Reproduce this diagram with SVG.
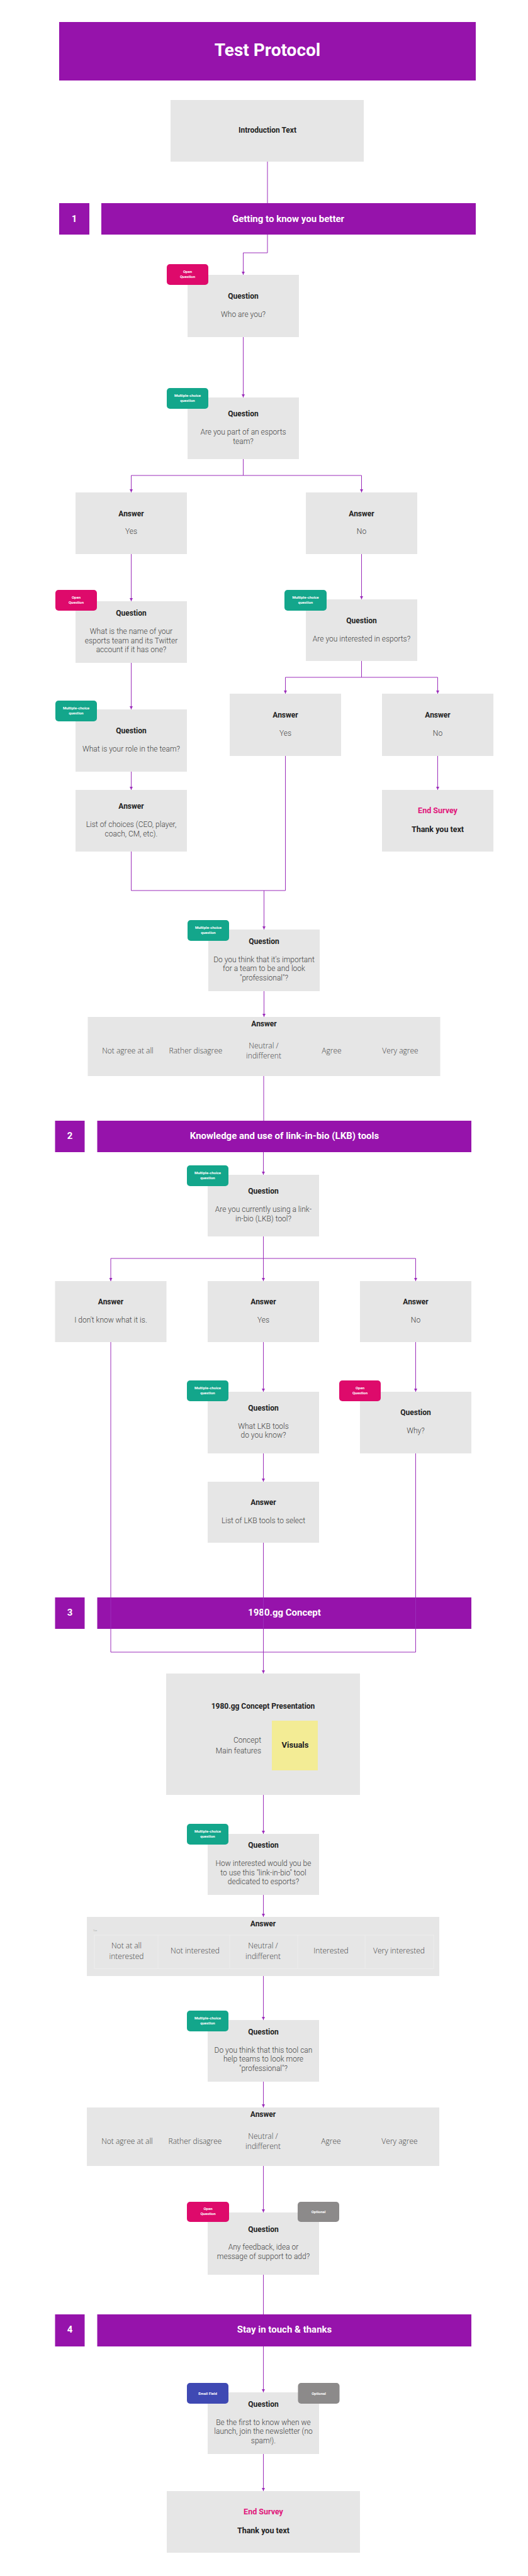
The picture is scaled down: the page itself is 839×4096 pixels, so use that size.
<svg xmlns="http://www.w3.org/2000/svg" width="839" height="4096" viewBox="0 0 839 4096">
<defs>
<style>
.sec{fill:#9613AB}
.box{fill:#E6E6E6}
.h{font-family:Roboto,"Liberation Sans",sans-serif;font-weight:bold;font-size:12px;fill:#222;text-anchor:middle}
.b{font-family:Roboto,"Liberation Sans",sans-serif;font-weight:300;font-size:12px;fill:#444;text-anchor:middle}
.o{font-family:"Open Sans","Liberation Sans",sans-serif;font-weight:300;font-size:12px;fill:#444;text-anchor:middle}
.bt{font-family:Roboto,"Liberation Sans",sans-serif;font-weight:bold;font-size:6px;fill:#fff;text-anchor:middle}
.st{font-family:Roboto,"Liberation Sans",sans-serif;font-weight:bold;font-size:15px;fill:#fff;text-anchor:middle}
.end{font-family:Roboto,"Liberation Sans",sans-serif;font-weight:bold;font-size:12.5px;fill:#E0157A;text-anchor:middle}
.ty{font-family:Roboto,"Liberation Sans",sans-serif;font-weight:bold;font-size:12.5px;fill:#222;text-anchor:middle}
.open{fill:#DE0A6B}
.mc{fill:#13A68B}
.opt{fill:#8C8A8A}
.mail{fill:#3F49B3}
.ln{stroke:#9B2DBA;stroke-width:1;fill:none}
.cell{fill:none;stroke:#EDEDED;stroke-width:1}
</style>
<marker id="ar" viewBox="0 0 6 6" markerWidth="5" markerHeight="5" refX="6" refY="3" orient="auto" markerUnits="userSpaceOnUse">
<path d="M0,0 L6,3 L0,6 z" fill="#9B2DBA"/>
</marker>
</defs>
<rect width="839" height="4096" fill="#fff"/>

<g id="title">
<rect class="sec" x="94" y="35" width="662" height="93"/>
<text x="425" y="89" style="font-family:Roboto,'Liberation Sans',sans-serif;font-weight:bold;font-size:28px;fill:#fff;text-anchor:middle">Test Protocol</text>
</g>
<g id="intro">
<rect class="box" x="271" y="159" width="307" height="98"/>
<text class="h" x="425" y="211">Introduction Text</text>
</g>

<g id="sec1">
<rect class="sec" x="94" y="323" width="48" height="50"/>
<rect class="sec" x="161" y="323" width="595" height="50"/>
<text class="st" x="118" y="353">1</text>
<text class="st" x="458" y="353">Getting to know you better</text>
</g>

<g id="q1">
<rect class="box" x="298" y="437" width="177" height="99"/>
<rect class="open" x="265" y="420" width="66" height="33" rx="5"/>
<text class="bt" x="298" y="434">Open</text>
<text class="bt" x="298" y="442">Question</text>
<text class="h" x="386.5" y="475">Question</text>
<text class="b" x="386.5" y="504">Who are you?</text>
</g>

<g id="q2">
<rect class="box" x="298" y="632" width="177" height="98"/>
<rect class="mc" x="265" y="617" width="66" height="33" rx="5"/>
<text class="bt" x="298" y="631">Multiple-choice</text>
<text class="bt" x="298" y="639">question</text>
<text class="h" x="386.5" y="662">Question</text>
<text class="b" x="386.5" y="691">Are you part of an esports</text>
<text class="b" x="386.5" y="706">team?</text>
</g>

<g id="a_yes">
<rect class="box" x="120" y="783" width="177" height="98"/>
<text class="h" x="208.5" y="821">Answer</text>
<text class="b" x="208.5" y="849">Yes</text>
</g>
<g id="a_no">
<rect class="box" x="486" y="783" width="177" height="98"/>
<text class="h" x="574.5" y="821">Answer</text>
<text class="b" x="574.5" y="849">No</text>
</g>

<g id="q_name">
<rect class="box" x="120" y="956" width="177" height="98"/>
<rect class="open" x="88" y="938" width="66" height="33" rx="5"/>
<text class="bt" x="121" y="952">Open</text>
<text class="bt" x="121" y="960">Question</text>
<text class="h" x="208.5" y="979">Question</text>
<text class="b" x="208.5" y="1008">What is the name of your</text>
<text class="b" x="208.5" y="1023">esports team and its Twitter</text>
<text class="b" x="208.5" y="1037">account if it has one?</text>
</g>

<g id="q_int">
<rect class="box" x="486" y="953" width="177" height="98"/>
<rect class="mc" x="452" y="938" width="67" height="33" rx="5"/>
<text class="bt" x="485.5" y="952">Multiple-choice</text>
<text class="bt" x="485.5" y="960">question</text>
<text class="h" x="574.5" y="991">Question</text>
<text class="b" x="574.5" y="1020">Are you interested in esports?</text>
</g>

<g id="a_yes2">
<rect class="box" x="365" y="1103" width="177" height="99"/>
<text class="h" x="453.5" y="1141">Answer</text>
<text class="b" x="453.5" y="1170">Yes</text>
</g>
<g id="a_no2">
<rect class="box" x="607" y="1103" width="177" height="99"/>
<text class="h" x="695.5" y="1141">Answer</text>
<text class="b" x="695.5" y="1170">No</text>
</g>

<g id="q_role">
<rect class="box" x="120" y="1128" width="177" height="99"/>
<rect class="mc" x="88" y="1114" width="66" height="33" rx="5"/>
<text class="bt" x="121" y="1128">Multiple-choice</text>
<text class="bt" x="121" y="1136">question</text>
<text class="h" x="208.5" y="1166">Question</text>
<text class="b" x="208.5" y="1195">What is your role in the team?</text>
</g>

<g id="a_role">
<rect class="box" x="120" y="1256" width="177" height="98"/>
<text class="h" x="208.5" y="1286">Answer</text>
<text class="b" x="208.5" y="1315">List of choices (CEO, player,</text>
<text class="b" x="208.5" y="1330">coach, CM, etc).</text>
</g>

<g id="end1">
<rect class="box" x="607" y="1256" width="177" height="98"/>
<text class="end" x="695.5" y="1293">End Survey</text>
<text class="ty" x="695.5" y="1323">Thank you text</text>
</g>

<g id="q_prof">
<rect class="box" x="331" y="1478" width="177" height="98"/>
<rect class="mc" x="298" y="1463" width="66" height="33" rx="5"/>
<text class="bt" x="331" y="1477">Multiple-choice</text>
<text class="bt" x="331" y="1485">question</text>
<text class="h" x="419.5" y="1501">Question</text>
<text class="b" x="419.5" y="1530">Do you think that it's important</text>
<text class="b" x="419.5" y="1544">for a team to be and look</text>
<text class="b" x="419.5" y="1559">"professional"?</text>
</g>

<g id="a_prof">
<rect class="box" x="139.5" y="1617" width="560" height="94"/>
<text class="h" x="419.5" y="1632">Answer</text>
<text class="o" x="203" y="1675">Not agree at all</text>
<text class="o" x="311" y="1675">Rather disagree</text>
<text class="o" x="419" y="1667">Neutral /</text>
<text class="o" x="419" y="1683">indifferent</text>
<text class="o" x="527" y="1675">Agree</text>
<text class="o" x="636" y="1675">Very agree</text>
</g>

<g id="sec2">
<rect class="sec" x="87.5" y="1782" width="47" height="50"/>
<rect class="sec" x="154.5" y="1782" width="594.5" height="50"/>
<text class="st" x="111" y="1811">2</text>
<text class="st" x="452" y="1811">Knowledge and use of link-in-bio (LKB) tools</text>
</g>

<g id="q_lkb">
<rect class="box" x="330" y="1868" width="177" height="98"/>
<rect class="mc" x="297" y="1853" width="66" height="33" rx="5"/>
<text class="bt" x="330" y="1867">Multiple-choice</text>
<text class="bt" x="330" y="1875">question</text>
<text class="h" x="418.5" y="1898">Question</text>
<text class="b" x="418.5" y="1927">Are you currently using a link-</text>
<text class="b" x="418.5" y="1942">in-bio (LKB) tool?</text>
</g>

<g id="a_dk">
<rect class="box" x="87.5" y="2037" width="177" height="97"/>
<text class="h" x="176" y="2074">Answer</text>
<text class="b" x="176" y="2103">I don't know what it is.</text>
</g>
<g id="a_y">
<rect class="box" x="330" y="2037" width="177" height="97"/>
<text class="h" x="418.5" y="2074">Answer</text>
<text class="b" x="418.5" y="2103">Yes</text>
</g>
<g id="a_n">
<rect class="box" x="572" y="2037" width="177" height="97"/>
<text class="h" x="660.5" y="2074">Answer</text>
<text class="b" x="660.5" y="2103">No</text>
</g>

<g id="q_tools">
<rect class="box" x="330" y="2213" width="177" height="98"/>
<rect class="mc" x="297" y="2195" width="66" height="33" rx="5"/>
<text class="bt" x="330" y="2209">Multiple-choice</text>
<text class="bt" x="330" y="2217">question</text>
<text class="h" x="418.5" y="2243">Question</text>
<text class="b" x="418.5" y="2272">What LKB tools</text>
<text class="b" x="418.5" y="2286">do you know?</text>
</g>

<g id="q_why">
<rect class="box" x="572" y="2213" width="177" height="98"/>
<rect class="open" x="539" y="2195" width="66" height="33" rx="5"/>
<text class="bt" x="572" y="2209">Open</text>
<text class="bt" x="572" y="2217">Question</text>
<text class="h" x="660.5" y="2250">Question</text>
<text class="b" x="660.5" y="2279">Why?</text>
</g>

<g id="a_tools">
<rect class="box" x="330" y="2356" width="177" height="97"/>
<text class="h" x="418.5" y="2393">Answer</text>
<text class="b" x="418.5" y="2422">List of LKB tools to select</text>
</g>

<g id="sec3">
<rect class="sec" x="87.5" y="2540" width="47" height="50"/>
<rect class="sec" x="154.5" y="2540" width="594.5" height="50"/>
<text class="st" x="111" y="2569">3</text>
<text class="st" x="452" y="2569">1980.gg Concept</text>
</g>

<g id="concept">
<rect class="box" x="264" y="2661" width="308" height="193"/>
<text class="h" x="418" y="2717">1980.gg Concept Presentation</text>
<rect x="432" y="2736" width="73" height="79" fill="#F3EC95"/>
<text x="469" y="2779" style="font-family:Roboto,'Liberation Sans',sans-serif;font-weight:bold;font-size:13px;fill:#222;text-anchor:middle">Visuals</text>
<text class="b" x="415" y="2771" style="text-anchor:end">Concept</text>
<text class="b" x="415" y="2788" style="text-anchor:end">Main features</text>
</g>

<g id="q_int2">
<rect class="box" x="330" y="2916" width="177" height="97"/>
<rect class="mc" x="297" y="2900" width="66" height="33" rx="5"/>
<text class="bt" x="330" y="2914">Multiple-choice</text>
<text class="bt" x="330" y="2922">question</text>
<text class="h" x="418.5" y="2938">Question</text>
<text class="b" x="418.5" y="2967">How interested would you be</text>
<text class="b" x="418.5" y="2982">to use this "link-in-bio" tool</text>
<text class="b" x="418.5" y="2996">dedicated to esports?</text>
</g>

<g id="a_int">
<rect class="box" x="138" y="3048" width="560" height="94"/>
<text class="h" x="418" y="3063">Answer</text>
<text x="148" y="3071" style="font-family:Roboto,'Liberation Sans',sans-serif;font-size:3px;fill:#aaa">Titre</text>
<rect class="cell" x="150" y="3077" width="539" height="53"/>
<line class="cell" x1="251" y1="3077" x2="251" y2="3130"/>
<line class="cell" x1="365" y1="3077" x2="365" y2="3130"/>
<line class="cell" x1="473" y1="3077" x2="473" y2="3130"/>
<line class="cell" x1="580" y1="3077" x2="580" y2="3130"/>
<text class="o" x="201" y="3098">Not at all</text>
<text class="o" x="201" y="3115">interested</text>
<text class="o" x="310" y="3106">Not interested</text>
<text class="o" x="418" y="3098">Neutral /</text>
<text class="o" x="418" y="3115">indifferent</text>
<text class="o" x="526" y="3106">Interested</text>
<text class="o" x="634" y="3106">Very interested</text>
</g>

<g id="q_help">
<rect class="box" x="330" y="3212" width="177" height="98"/>
<rect class="mc" x="297" y="3197" width="66" height="33" rx="5"/>
<text class="bt" x="330" y="3211">Multiple-choice</text>
<text class="bt" x="330" y="3219">question</text>
<text class="h" x="418.5" y="3235">Question</text>
<text class="b" x="418.5" y="3264">Do you think that this tool can</text>
<text class="b" x="418.5" y="3278">help teams to look more</text>
<text class="b" x="418.5" y="3293">"professional"?</text>
</g>

<g id="a_help">
<rect class="box" x="138" y="3351" width="560" height="93"/>
<text class="h" x="418" y="3366">Answer</text>
<text class="o" x="202" y="3409">Not agree at all</text>
<text class="o" x="310" y="3409">Rather disagree</text>
<text class="o" x="418" y="3401">Neutral /</text>
<text class="o" x="418" y="3417">indifferent</text>
<text class="o" x="526" y="3409">Agree</text>
<text class="o" x="635" y="3409">Very agree</text>
</g>

<g id="q_fb">
<rect class="box" x="330" y="3518" width="177" height="99"/>
<rect class="open" x="297" y="3501" width="67" height="32" rx="5"/>
<text class="bt" x="330.5" y="3514">Open</text>
<text class="bt" x="330.5" y="3522">Question</text>
<rect class="opt" x="473" y="3501" width="66" height="32" rx="5"/>
<text class="bt" x="506" y="3519">Optional</text>
<text class="h" x="418.5" y="3549">Question</text>
<text class="b" x="418.5" y="3577">Any feedback, idea or</text>
<text class="b" x="418.5" y="3592">message of support to add?</text>
</g>

<g id="sec4">
<rect class="sec" x="87.5" y="3680" width="47" height="51"/>
<rect class="sec" x="154.5" y="3680" width="594.5" height="51"/>
<text class="st" x="111" y="3709">4</text>
<text class="st" x="452" y="3709">Stay in touch &amp; thanks</text>
</g>

<g id="q_nl">
<rect class="box" x="330" y="3804" width="177" height="98"/>
<rect class="mail" x="297" y="3789" width="66" height="33" rx="5"/>
<text class="bt" x="330" y="3807.5">Email Field</text>
<rect class="opt" x="473.5" y="3789" width="66" height="33" rx="5"/>
<text class="bt" x="506.5" y="3807.5">Optional</text>
<text class="h" x="418.5" y="3827">Question</text>
<text class="b" x="418.5" y="3856">Be the first to know when we</text>
<text class="b" x="418.5" y="3870">launch, join the newsletter (no</text>
<text class="b" x="418.5" y="3885">spam!).</text>
</g>

<g id="end2">
<rect class="box" x="265" y="3961" width="307" height="98"/>
<text class="end" x="418.5" y="3998">End Survey</text>
<text class="ty" x="418.5" y="4028">Thank you text</text>
</g>

<g id="connectors">
<path class="ln" d="M425,257 V323"/>
<path class="ln" d="M425,373 V402 H386.5 V437" marker-end="url(#ar)"/>
<path class="ln" d="M386.5,536 V632" marker-end="url(#ar)"/>
<path class="ln" d="M386.5,730 V756 H208.5 V783" marker-end="url(#ar)"/>
<path class="ln" d="M386.5,756 H574.5 V783" marker-end="url(#ar)"/>
<path class="ln" d="M208.5,881 V956" marker-end="url(#ar)"/>
<path class="ln" d="M574.5,881 V953" marker-end="url(#ar)"/>
<path class="ln" d="M208.5,1054 V1128" marker-end="url(#ar)"/>
<path class="ln" d="M574.5,1051 V1077 H453.5 V1103" marker-end="url(#ar)"/>
<path class="ln" d="M574.5,1077 H695.5 V1103" marker-end="url(#ar)"/>
<path class="ln" d="M208.5,1227 V1256" marker-end="url(#ar)"/>
<path class="ln" d="M695.5,1202 V1256" marker-end="url(#ar)"/>
<path class="ln" d="M208.5,1354 V1416 H453.5 V1202"/>
<path class="ln" d="M419.5,1416 V1478" marker-end="url(#ar)"/>
<path class="ln" d="M419.5,1576 V1617" marker-end="url(#ar)"/>
<path class="ln" d="M419,1711 V1782"/>
<path class="ln" d="M418.5,1832 V1868" marker-end="url(#ar)"/>
<path class="ln" d="M418.5,1966 V2037" marker-end="url(#ar)"/>
<path class="ln" d="M418.5,2001 H176 V2037" marker-end="url(#ar)"/>
<path class="ln" d="M418.5,2001 H660.5 V2037" marker-end="url(#ar)"/>
<path class="ln" d="M418.5,2134 V2213" marker-end="url(#ar)"/>
<path class="ln" d="M660.5,2134 V2213" marker-end="url(#ar)"/>
<path class="ln" d="M418.5,2311 V2356" marker-end="url(#ar)"/>
<path class="ln" d="M176,2134 V2627 H660.5 V2311"/>
<path class="ln" d="M418.5,2453 V2661" marker-end="url(#ar)"/>
<path class="ln" d="M418.5,2854 V2916" marker-end="url(#ar)"/>
<path class="ln" d="M418.5,3013 V3048" marker-end="url(#ar)"/>
<path class="ln" d="M418.5,3142 V3212" marker-end="url(#ar)"/>
<path class="ln" d="M418.5,3310 V3351" marker-end="url(#ar)"/>
<path class="ln" d="M418.5,3444 V3518" marker-end="url(#ar)"/>
<path class="ln" d="M418.5,3617 V3680"/>
<path class="ln" d="M418.5,3731 V3804" marker-end="url(#ar)"/>
<path class="ln" d="M418.5,3902 V3961" marker-end="url(#ar)"/>
</g>
</svg>
